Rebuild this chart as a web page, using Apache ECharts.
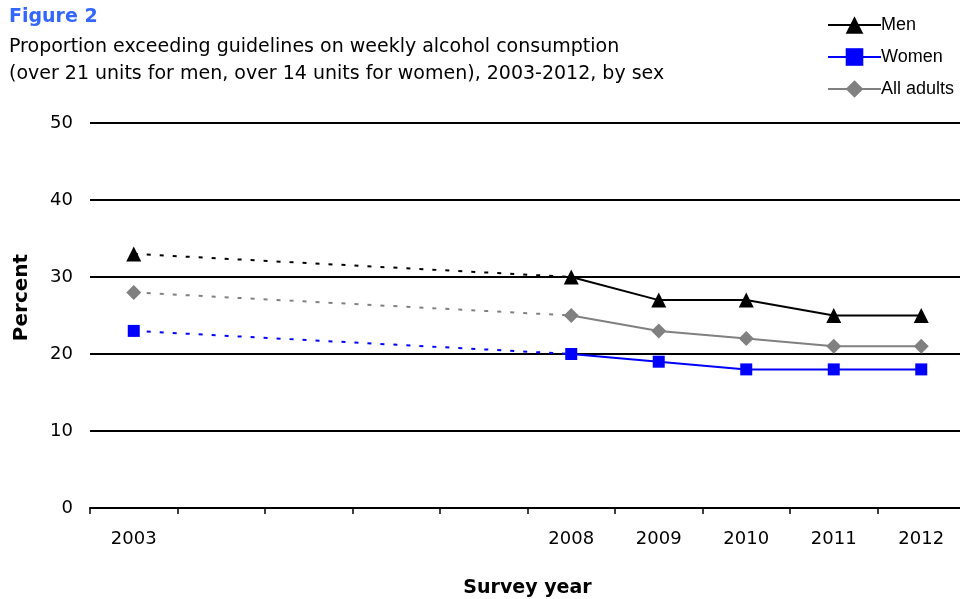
<!DOCTYPE html>
<html>
<head>
<meta charset="utf-8">
<script src="https://cdn.jsdelivr.net/npm/echarts@6/dist/echarts.min.js"></script>
<style>
  html, body { margin: 0; padding: 0; background: #fff; }
  #chart { width: 960px; height: 599px; }
</style>
</head>
<body>
<div id="chart"></div>
<script>
// Survey years on the category axis (2004-2007 have no survey data)
const years = ['2003', '2004', '2005', '2006', '2007', '2008', '2009', '2010', '2011', '2012'];
const shownYears = ['2003', '2008', '2009', '2010', '2011', '2012'];

// Percent exceeding weekly guidelines
const men = [33, null, null, null, null, 30, 27, 27, 25, 25];
const women = [23, null, null, null, null, 20, 19, 18, 18, 18];
const allAdults = [28, null, null, null, null, 25, 23, 22, 21, 21];

const yTicks = [0, 10, 20, 30, 40, 50];

const FONT = '"DejaVu Sans", Verdana, sans-serif';

// The 2003 -> 2008 gap is bridged by a dotted connector
function gapOnly(arr) {
  return arr.map((v, i) => (i === 0 || i === 5) ? v : null);
}
function solidPart(arr) {
  return arr.map((v, i) => (i === 0 || i >= 5) ? v : null);
}

const groups = [
  { name: 'Men', data: men, color: '#000000', symbol: 'triangle', size: 15 },
  { name: 'Women', data: women, color: '#0000ff', symbol: 'rect', size: 12 },
  { name: 'All adults', data: allAdults, color: '#808080', symbol: 'diamond', size: 15 }
];

const series = [];
groups.forEach(g => {
  series.push({
    name: g.name + ' (gap)',
    type: 'line',
    data: gapOnly(g.data),
    connectNulls: true,
    symbol: 'none',
    silent: true,
    lineStyle: { color: g.color, width: 2, type: [4, 9] },
    z: 1
  });
  series.push({
    name: g.name,
    type: 'line',
    data: solidPart(g.data),
    connectNulls: false,
    symbol: g.symbol,
    symbolSize: g.size,
    itemStyle: { color: g.color },
    lineStyle: { color: g.color, width: 2 },
    z: 3
  });
});

const chart = echarts.init(document.getElementById('chart'), null, { renderer: 'canvas' });
chart.setOption({
  animation: false,
  title: {
    text: 'Figure 2',
    subtext: 'Proportion exceeding guidelines on weekly alcohol consumption\n(over 21 units for men, over 14 units for women), 2003-2012, by sex',
    left: 4,
    top: 3,
    itemGap: 7,
    textStyle: { color: '#3366ff', fontFamily: FONT, fontWeight: 'bold', fontSize: 19 },
    subtextStyle: { color: '#000', fontFamily: FONT, fontSize: 19, lineHeight: 27 }
  },
  legend: {
    data: groups.map(g => g.name),
    orient: 'vertical',
    left: 822,
    top: 11,
    itemWidth: 53,
    itemHeight: 22,
    itemGap: 14,
    textStyle: { fontFamily: '"Liberation Sans", Arial, sans-serif', fontSize: 18, color: '#000', padding: [0, 0, 0, -5] }
  },
  grid: { left: 90, top: 123, width: 875, height: 385, outerBoundsMode: 'none', containLabel: false },
  xAxis: {
    type: 'category',
    data: years,
    boundaryGap: true,
    name: 'Survey year',
    nameLocation: 'middle',
    nameGap: 71,
    nameTextStyle: { fontFamily: FONT, fontWeight: 'bold', fontSize: 19, color: '#000' },
    axisLine: { lineStyle: { color: '#000', width: 2 } },
    axisTick: { show: true, length: 6, lineStyle: { color: '#000', width: 1.5 }, alignWithLabel: false },
    axisLabel: {
      interval: 0,
      margin: 22,
      fontFamily: FONT,
      fontSize: 18,
      color: '#000',
      formatter: v => shownYears.includes(v) ? v : ''
    },
    splitLine: { show: false }
  },
  yAxis: {
    type: 'value',
    min: yTicks[0],
    max: yTicks[yTicks.length - 1],
    interval: 10,
    name: 'Percent',
    nameLocation: 'middle',
    nameGap: 58,
    nameMoveOverlap: false,
    nameRotate: 90,
    nameTextStyle: { fontFamily: FONT, fontWeight: 'bold', fontSize: 20, color: '#000', padding: [0, 0, 0, 36] },
    axisLine: { show: false },
    axisTick: { show: false },
    axisLabel: { margin: 17, fontFamily: FONT, fontSize: 18, color: '#000' },
    splitLine: { lineStyle: { color: '#000', width: 2 } }
  },
  series: series
});
</script>
</body>
</html>
